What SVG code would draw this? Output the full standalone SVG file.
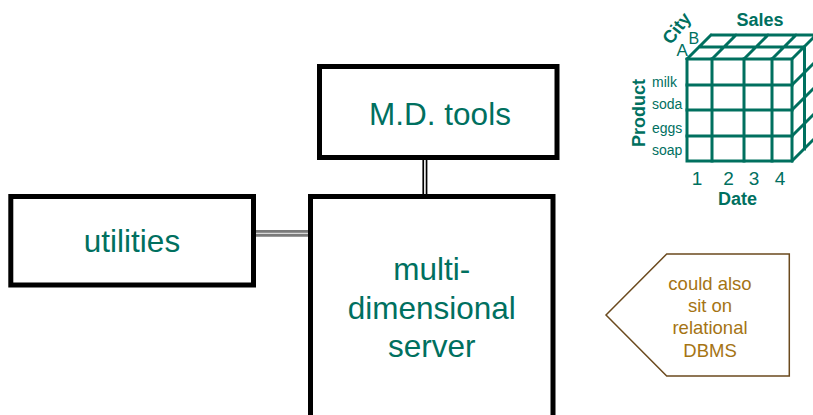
<svg xmlns="http://www.w3.org/2000/svg" width="813" height="415" viewBox="0 0 813 415">
  <style>
    .box { fill: #ffffff; stroke: #000000; stroke-width: 5; }
    .label { font-family: "Liberation Sans", Arial, sans-serif; fill: #00705F; text-anchor: middle; }
    .big { font-size: 31.5px; }
    .grid { fill: none; stroke: #00705F; stroke-width: 3; stroke-linecap: square; }
    .cube-text { font-family: "Liberation Sans", Arial, sans-serif; fill: #00705F; }
    .bold { font-weight: bold; }
    .note { fill: #ffffff; stroke: #6b4a1e; stroke-width: 1.5; }
    .note-text { font-family: "Liberation Sans", Arial, sans-serif; font-size: 18.5px; fill: #A57414; text-anchor: middle; }
  </style>

  <rect width="813" height="415" fill="#ffffff"/>

  <!-- double-line links between the boxes -->
  <g id="connectors">
    <line x1="424.9" y1="159" x2="424.9" y2="195" stroke="#000000" stroke-width="5"/>
    <line x1="424.9" y1="159" x2="424.9" y2="195" stroke="#ffffff" stroke-width="1.6"/>
    <line x1="255" y1="233.4" x2="309" y2="233.4" stroke="#7a7a7a" stroke-width="6.6"/>
    <line x1="255" y1="233.4" x2="309" y2="233.4" stroke="#d8d8d8" stroke-width="1.4"/>
  </g>

  <g id="md-tools">
    <rect class="box" x="319.5" y="66.5" width="237.5" height="91"/>
    <text class="label big" x="440" y="125">M.D. tools</text>
  </g>

  <g id="utilities">
    <rect class="box" x="10.8" y="196.5" width="242.7" height="88.5"/>
    <text class="label big" x="132" y="252">utilities</text>
  </g>

  <g id="server">
    <rect class="box" x="310.5" y="196.5" width="242.5" height="240"/>
    <text class="label big" x="431.7" y="280">multi-</text>
    <text class="label big" x="431.7" y="318.5">dimensional</text>
    <text class="label big" x="431.7" y="357">server</text>
  </g>

  <!-- data cube: Product x Date x City -->
  <g id="cube">
    <!-- front face -->
    <rect class="grid" x="687" y="59" width="105" height="102"/>
    <path class="grid" d="M712 59V161M744 59V161M772 59V161M687 85H792M687 110H792M687 136H792"/>
    <!-- top face -->
    <path class="grid" d="M699.5 47H804.5M712 35H830M687 59L711 35M712 59L736 35M744 59L768 35M772 59L796 35M792 59L816 35"/>
    <!-- right face -->
    <path class="grid" d="M804.5 47V149M817 35V137M792 85L816 61M792 110L816 86M792 136L816 112M792 161L816 137"/>

    <text class="cube-text bold" x="760" y="26" font-size="18" text-anchor="middle">Sales</text>
    <text class="cube-text bold" font-size="18" text-anchor="middle" transform="translate(681.5,32) rotate(-52)">City</text>
    <text class="cube-text" x="676.5" y="56" font-size="17">A</text>
    <text class="cube-text" x="688.5" y="43.5" font-size="16">B</text>
    <text class="cube-text bold" font-size="18" text-anchor="middle" transform="translate(645,113) rotate(-90)">Product</text>
    <text class="cube-text" x="652" y="87" font-size="14">milk</text>
    <text class="cube-text" x="652" y="109" font-size="14">soda</text>
    <text class="cube-text" x="652" y="133" font-size="14">eggs</text>
    <text class="cube-text" x="652" y="155" font-size="14">soap</text>
    <text class="cube-text" x="697" y="185" font-size="19" text-anchor="middle">1</text>
    <text class="cube-text" x="728.5" y="185" font-size="19" text-anchor="middle">2</text>
    <text class="cube-text" x="754" y="185" font-size="19" text-anchor="middle">3</text>
    <text class="cube-text" x="780" y="185" font-size="19" text-anchor="middle">4</text>
    <text class="cube-text bold" x="737.5" y="205" font-size="18" text-anchor="middle">Date</text>
  </g>

  <g id="note">
    <polygon class="note" points="606,315 666.7,254 789.3,254 789.3,376 666.7,376"/>
    <text class="note-text" x="710" y="290">could also</text>
    <text class="note-text" x="710" y="312">sit on</text>
    <text class="note-text" x="710" y="334">relational</text>
    <text class="note-text" x="710" y="356.5">DBMS</text>
  </g>
</svg>
